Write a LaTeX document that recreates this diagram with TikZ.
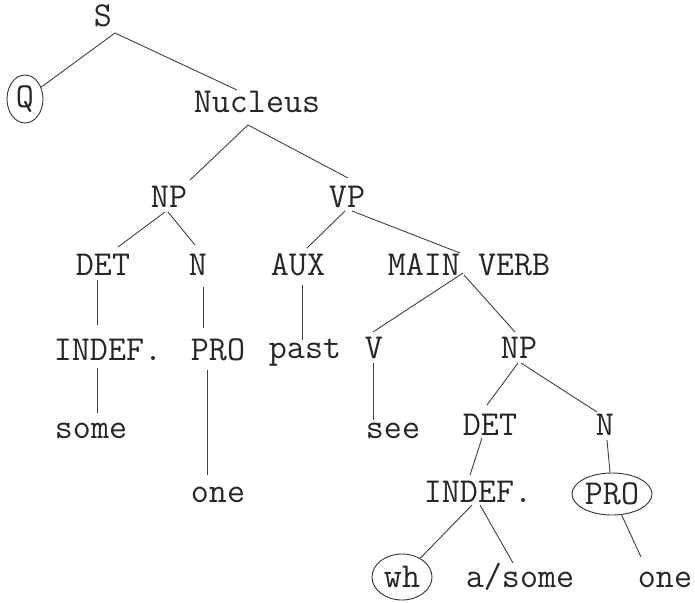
\documentclass[tikz,border=0pt]{standalone}
\usepackage{fontspec}
\usetikzlibrary{shapes.geometric,calc}
\begin{document}
\begin{tikzpicture}[x=1pt,y=1pt,
  lbl/.style={anchor=base,inner sep=0pt,font=\ttfamily\fontsize{35}{38}\selectfont,text=black!85},
  ring/.style={ellipse,draw=black!80,line width=0.9pt,inner sep=0pt,font=\ttfamily\fontsize{35}{38}\selectfont,text=black!85},
  branch/.style={draw=black!75,line width=0.9pt}]
\useasboundingbox (0,0) rectangle (695,-602);
% nodes
\node[lbl] (S) at (103,-27) {S};
\node[ring,minimum width=36pt,minimum height=48pt] (Q) at (25,-99) {Q};
\node[lbl] (Nuc) at (257,-112) {Nucleus};
\node[lbl] (NP) at (169,-207) {NP};
\node[lbl] (VP) at (347,-207) {VP};
\node[lbl] (DET) at (103,-275) {DET};
\node[lbl] (N) at (198,-275) {N};
\node[lbl] (AUX) at (298,-275) {AUX};
\node[lbl] (MV) at (469,-275) {MAIN VERB};
\node[lbl] (INDEF) at (108,-360) {INDEF.};
\node[lbl] (PRO) at (218,-360) {PRO};
\node[lbl] (past) at (305,-358) {past};
\node[lbl] (V) at (374,-358) {V};
\node[lbl] (NPb) at (519,-358) {NP};
\node[lbl] (some) at (91,-438) {some};
\node[lbl] (see) at (393,-438) {see};
\node[lbl] (DETb) at (490,-435) {DET};
\node[lbl] (Nb) at (605,-435) {N};
\node[lbl] (one) at (218,-502) {one};
\node[lbl] (INDEFb) at (478,-502) {INDEF.};
\node[ring,minimum width=80pt,minimum height=42pt] (PROb) at (612,-494) {PRO};
\node[ring,minimum width=60pt,minimum height=46pt] (wh) at (402,-577) {wh};
\node[lbl] (asome) at (520,-587) {a/some};
\node[lbl] (oneb) at (665,-587) {one};
% connectors
\draw[branch] ($(S.base)+(12,-6)$) -- (Q);
\draw[branch] ($(S.base)+(12,-6)$) -- ($(Nuc.base)+(-20,22)$);
\draw[branch] ($(Nuc.base)+(-9,-13)$) -- ($(NP.base)+(21,27)$);
\draw[branch] ($(Nuc.base)+(-9,-13)$) -- ($(VP.base)+(1,29)$);
\draw[branch] ($(NP.base)+(-4,-5)$) -- ($(DET.base)+(15,28)$);
\draw[branch] ($(NP.base)+(-1,-5)$) -- ($(N.base)+(-3,30)$);
\draw[branch] ($(VP.base)+(-2,-4)$) -- ($(AUX.base)+(9,27)$);
\draw[branch] ($(VP.base)+(5,-4)$) -- ($(MV.base)+(-9,22)$);
\draw[branch] ($(DET.base)+(-6,-5)$) -- ($(INDEF.base)+(-11,35)$);
\draw[branch] ($(N.base)+(5,-12)$) -- ($(PRO.base)+(-15,32)$);
\draw[branch] ($(AUX.base)+(4,-10)$) -- ($(past.base)+(-3,18)$);
\draw[branch] ($(MV.base)+(-6,2)$) -- ($(V.base)+(-1,26)$);
\draw[branch] ($(MV.base)+(-5,0)$) -- ($(NPb.base)+(-4,26)$);
\draw[branch] ($(V.base)+(-1,-5)$) -- ($(see.base)+(-20,18)$);
\draw[branch] ($(INDEF.base)+(-11,-8)$) -- ($(some.base)+(6,25)$);
\draw[branch] ($(PRO.base)+(-11,-10)$) -- ($(one.base)+(-11,27)$);
\draw[branch] ($(NPb.base)+(-1,-5)$) -- ($(DETb.base)+(-3,30)$);
\draw[branch] ($(NPb.base)+(2,-5)$) -- ($(Nb.base)+(-8,23)$);
\draw[branch] ($(DETb.base)+(-8,-3)$) -- ($(INDEFb.base)+(-8,27)$);
\draw[branch] ($(Nb.base)+(2,-5)$) -- (PROb);
\draw[branch] ($(INDEFb.base)+(-6,-3)$) -- (wh);
\draw[branch] ($(INDEFb.base)+(2,-3)$) -- ($(asome.base)+(-7,24)$);
\draw[branch] (PROb) -- ($(oneb.base)+(-24,30)$);
\end{tikzpicture}
\end{document}
